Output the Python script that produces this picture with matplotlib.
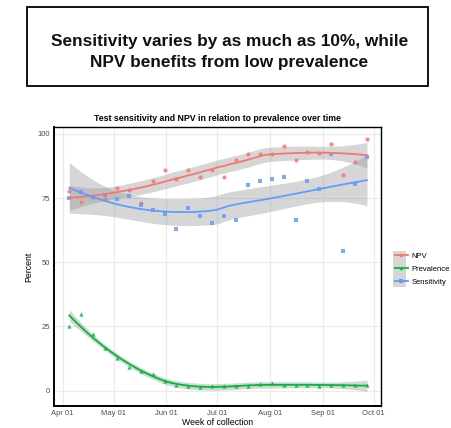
import numpy as np
import matplotlib
matplotlib.use("Agg")
import matplotlib.pyplot as plt
import matplotlib.dates as mdates
from matplotlib.patches import Rectangle
from matplotlib.lines import Line2D
import datetime as dt

# ---------------- data ----------------
week_dates = ["2020-04-05", "2020-04-12", "2020-04-19", "2020-04-26", "2020-05-03",
              "2020-05-10", "2020-05-17", "2020-05-24", "2020-05-31", "2020-06-07",
              "2020-06-14", "2020-06-21", "2020-06-28", "2020-07-05", "2020-07-12",
              "2020-07-19", "2020-07-26", "2020-08-02", "2020-08-09", "2020-08-16",
              "2020-08-23", "2020-08-30", "2020-09-06", "2020-09-13", "2020-09-20",
              "2020-09-27"]
npv = [77.9, 73.6, 75.5, 74.5, 79.1, 78.3, 72.9, 81.5, 85.8, 82.6,
       85.8, 83.2, 85.8, 83.4, 90.0, 92.0, 92.0, 92.0, 95.2, 90.0,
       93.0, 92.6, 96.0, 84.0, 88.9, 98.1]
sensitivity = [75.1, 77.2, 75.3, 76.4, 74.8, 75.8, 72.4, 70.5, 68.9, 63.0,
               71.1, 68.1, 65.4, 68.1, 66.6, 80.2, 81.8, 82.6, 83.4, 66.6,
               81.8, 78.5, 92.0, 54.5, 80.4, 91.2]
prevalence = [25.1, 29.8, 22.0, 16.5, 12.6, 9.1, 7.6, 6.3, 3.6, 2.1,
              1.7, 1.4, 1.6, 1.6, 1.8, 1.8, 2.7, 3.1, 2.2, 2.2,
              2.0, 1.8, 2.0, 2.0, 2.3, 2.0]
series_names = ["NPV", "Prevalence", "Sensitivity"]
series_colors = ["#F8766D", "#00BA38", "#619CFF"]
series_markers = ["o", "^", "s"]
smooth_spans = [0.75, 0.75, 1.0]
y_ticks = [0, 25, 50, 75, 100]
x_tick_dates = ["2020-04-01", "2020-05-01", "2020-06-01", "2020-07-01",
                "2020-08-01", "2020-09-01", "2020-10-01"]


# ---------------- loess smoother with confidence band (like geom_smooth) ----------------
def loess_fit(x, y, xe, span=0.75, degree=2):
    x = np.asarray(x, float); y = np.asarray(y, float)
    n = len(x); q = int(np.floor(n * span))

    def lrow(x0):
        d = np.abs(x - x0)
        if span < 1:
            h = np.sort(d)[q - 1] * 1.0000001
        else:
            h = d.max() * span * 1.0000001
        w = np.clip(1 - (d / h) ** 3, 0, None) ** 3
        X = np.vander(x - x0, degree + 1, increasing=True)
        XtW = X.T * w
        return np.linalg.solve(XtW @ X, XtW)[0]

    L = np.array([lrow(xi) for xi in x])
    IL = np.eye(n) - L
    M = IL.T @ IL
    d1 = np.trace(M); d2 = np.trace(M @ M)
    rss = np.sum((IL @ y) ** 2)
    sigma = np.sqrt(rss / d1)
    df = d1 ** 2 / d2
    z = 1.959964
    t = z + (z ** 3 + z) / (4 * df) + (5 * z ** 5 + 16 * z ** 3 + 3 * z) / (96 * df ** 2)
    Le = np.array([lrow(x0) for x0 in xe])
    fit = Le @ y
    se = sigma * np.sqrt(np.sum(Le ** 2, axis=1))
    return fit, fit - t * se, fit + t * se


dates = np.array([mdates.date2num(dt.datetime.strptime(s, "%Y-%m-%d")) for s in week_dates])
xs = (dates - dates[0]) / 7.0
xe = np.linspace(xs.min(), xs.max(), 80)
de = dates[0] + xe * 7.0

# ---------------- figure ----------------
fig = plt.figure(figsize=(4.52, 4.28), dpi=100)
FONT = "Liberation Sans"

# headline box
fig.patches.append(Rectangle((26.7 / 452, 1 - 86 / 428), (428 - 26.7) / 452, (86 - 7.3) / 428,
                             transform=fig.transFigure, fill=False, edgecolor="black",
                             linewidth=1.3))
fig.text(0.507, 1 - 45.7 / 428, "Sensitivity varies by as much as 10%, while",
         ha="center", va="baseline", fontsize=12.4, fontweight="bold", family=FONT, color="#111111")
fig.text(0.507, 1 - 66.8 / 428, "NPV benefits from low prevalence",
         ha="center", va="baseline", fontsize=12.4, fontweight="bold", family=FONT, color="#111111")

ax = fig.add_axes([54 / 452, 1 - 406 / 428, (381 - 54) / 452, (406 - 127) / 428])
ax.set_facecolor("white")

for vals, col, mk, sp in zip([npv, prevalence, sensitivity], series_colors, series_markers,
                             smooth_spans):
    fit, lo, hi = loess_fit(xs, vals, xe, span=sp)
    ax.fill_between(de, lo, hi, color="#999999", alpha=0.4, linewidth=0, zorder=2)
    ax.plot(de, fit, color=col, linewidth=1.3, zorder=4)
    ax.scatter(dates, vals, color=col, marker=mk, s=9, linewidths=0, alpha=0.85, zorder=3)

ax.set_ylim(-6, 102.7)
ax.set_xlim(mdates.date2num(dt.datetime(2020, 3, 27)), mdates.date2num(dt.datetime(2020, 10, 5, 6)))
ax.set_yticks(y_ticks)
xt = [mdates.date2num(dt.datetime.strptime(s, "%Y-%m-%d")) for s in x_tick_dates]
ax.set_xticks(xt)
ax.set_xticklabels([dt.datetime.strptime(s, "%Y-%m-%d").strftime("%b %d") for s in x_tick_dates])
ax.grid(True, color="#EBEBEB", linewidth=0.9, zorder=0)
ax.set_axisbelow(True)
for s in ax.spines.values():
    s.set_color("black"); s.set_linewidth(1.0)
ax.spines["left"].set_linewidth(1.4)
ax.spines["bottom"].set_linewidth(1.4)
ax.tick_params(axis="both", length=0, labelsize=5.5, labelcolor="#4D4D4D", pad=3)
for lab in ax.get_xticklabels() + ax.get_yticklabels():
    lab.set_family(FONT)
ax.set_xlabel("Week of collection", fontsize=6.3, family=FONT, labelpad=0.5)
ax.set_ylabel("Percent", fontsize=6.3, family=FONT, labelpad=3)
ax.set_title("Test sensitivity and NPV in relation to prevalence over time",
             fontsize=6.3, fontweight="bold", family=FONT, pad=4)

# legend
handles = []
for name, col, mk in zip(series_names, series_colors, series_markers):
    handles.append(Line2D([0], [0], color=col, linewidth=1.3, marker=mk, markersize=2.5,
                          markeredgewidth=0))
leg = fig.legend(handles, series_names, loc="upper left",
                 bbox_to_anchor=(390 / 452, 1 - 247 / 428), frameon=False,
                 handlelength=1.6, handletextpad=0.5, labelspacing=0.75,
                 prop={"family": FONT, "size": 5.5}, borderpad=0.2)
fig.patches.append(Rectangle((393.5 / 452, 1 - 287 / 428), 12.5 / 452, 36 / 428,
                             transform=fig.transFigure, facecolor="#D6D6D6",
                             edgecolor="none", zorder=-1))

fig.savefig("out.png", dpi=100)
